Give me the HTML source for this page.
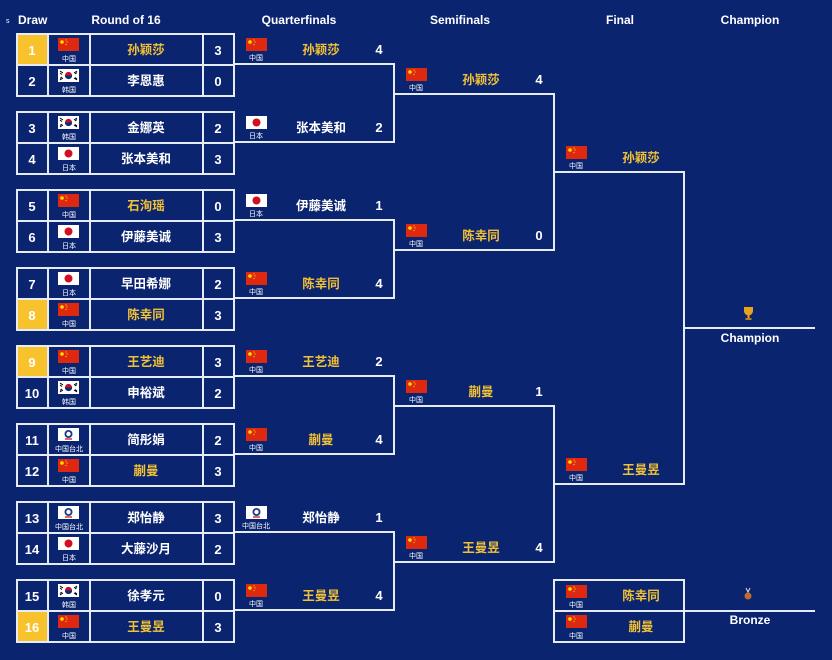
<!DOCTYPE html>
<html><head><meta charset="utf-8"><style>
html,body{margin:0;padding:0;background:#0a2470;}
svg{display:block;font-family:"Liberation Sans","Noto Sans CJK SC",sans-serif;}
.h{fill:#fff;font-weight:bold;font-size:12px;}
.n{font-weight:bold;font-size:12.5px;text-anchor:middle;}
.g{fill:#f3c234;}.w{fill:#fff;}
.c{fill:#fff;font-size:7px;text-anchor:middle;}
.s{fill:#fff;font-weight:bold;font-size:13px;text-anchor:middle;}
.l{stroke:#e6ecf6;stroke-width:2;fill:none;}
</style></head><body>
<svg width="832" height="660" viewBox="0 0 832 660">
<defs>
<g id="cn"><rect width="21" height="13" fill="#de2910"/><circle cx="4" cy="4" r="1.8" fill="#ffde00"/><circle cx="8" cy="2" r=".6" fill="#ffde00"/><circle cx="9" cy="4" r=".6" fill="#ffde00"/><circle cx="8" cy="6.5" r=".6" fill="#ffde00"/></g>
<g id="jp"><rect width="21" height="13" fill="#fff"/><circle cx="10.5" cy="6.5" r="4" fill="#d20f1e"/></g>
<g id="kr"><rect width="21" height="13" fill="#fff"/><circle cx="10.5" cy="6.5" r="3.6" fill="#c60c30"/><path d="M6.9 6.5a3.6 3.6 0 0 0 7.2 0z" fill="#003478"/><path d="M2 2l3 2M2 4l2 1.5M16 9l3 2M17 8.5l2 1.5M16 4l3-2M17 5l2-1.5M2 11l3-2M2 9.5l2-1.5" stroke="#000" stroke-width="1"/></g>
<g id="tw"><rect width="21" height="13" fill="#fff"/><circle cx="10.5" cy="6" r="4" fill="#1a3a8a"/><circle cx="10.5" cy="6" r="2.2" fill="#fff"/><path d="M7 11h7" stroke="#d00" stroke-width="1.2"/></g>
</defs>
<rect width="832" height="660" fill="#0a2470"/>
<text x="6" y="23" fill="#fff" font-size="7">s</text>
<text x="18" y="24" class="h">Draw</text>
<text x="126" y="24" class="h" text-anchor="middle">Round of 16</text>
<text x="299" y="24" class="h" text-anchor="middle">Quarterfinals</text>
<text x="460" y="24" class="h" text-anchor="middle">Semifinals</text>
<text x="620" y="24" class="h" text-anchor="middle">Final</text>
<text x="750" y="24" class="h" text-anchor="middle">Champion</text>

<!-- seed gold cells -->
<rect x="17" y="34" width="31" height="31" fill="#f7c22b"/>
<rect x="17" y="299" width="31" height="31" fill="#f7c22b"/>
<rect x="17" y="346" width="31" height="31" fill="#f7c22b"/>
<rect x="17" y="611" width="31" height="31" fill="#f7c22b"/>

<!-- R16 boxes -->
<g class="l">
<rect x="17" y="34" width="217" height="62"/><path d="M17 65H234M48 34V96M90 34V96M203 34V96"/>
<rect x="17" y="112" width="217" height="62"/><path d="M17 143H234M48 112V174M90 112V174M203 112V174"/>
<rect x="17" y="190" width="217" height="62"/><path d="M17 221H234M48 190V252M90 190V252M203 190V252"/>
<rect x="17" y="268" width="217" height="62"/><path d="M17 299H234M48 268V330M90 268V330M203 268V330"/>
<rect x="17" y="346" width="217" height="62"/><path d="M17 377H234M48 346V408M90 346V408M203 346V408"/>
<rect x="17" y="424" width="217" height="62"/><path d="M17 455H234M48 424V486M90 424V486M203 424V486"/>
<rect x="17" y="502" width="217" height="62"/><path d="M17 533H234M48 502V564M90 502V564M203 502V564"/>
<rect x="17" y="580" width="217" height="62"/><path d="M17 611H234M48 580V642M90 580V642M203 580V642"/>
<!-- QF -->
<path d="M234 64H394V142H234M234 220H394V298H234M234 376H394V454H234M234 532H394V610H234"/>
<!-- SF -->
<path d="M394 94H554V250H394M394 406H554V562H394"/>
<!-- Final -->
<path d="M554 172H684V484H554M684 328H815"/>
<!-- Bronze -->
<rect x="554" y="580" width="130" height="62"/><path d="M554 611H815"/>
</g>

<!-- draw numbers -->
<g class="s">
<text x="32" y="55">1</text><text x="32" y="86">2</text>
<text x="32" y="133">3</text><text x="32" y="164">4</text>
<text x="32" y="211">5</text><text x="32" y="242">6</text>
<text x="32" y="289">7</text><text x="32" y="320">8</text>
<text x="32" y="367">9</text><text x="32" y="398">10</text>
<text x="32" y="445">11</text><text x="32" y="476">12</text>
<text x="32" y="523">13</text><text x="32" y="554">14</text>
<text x="32" y="601">15</text><text x="32" y="632">16</text>
</g>
<!-- R16 flags -->
<use href="#cn" x="58" y="38"/><use href="#kr" x="58" y="69"/>
<use href="#kr" x="58" y="116"/><use href="#jp" x="58" y="147"/>
<use href="#cn" x="58" y="194"/><use href="#jp" x="58" y="225"/>
<use href="#jp" x="58" y="272"/><use href="#cn" x="58" y="303"/>
<use href="#cn" x="58" y="350"/><use href="#kr" x="58" y="381"/>
<use href="#tw" x="58" y="428"/><use href="#cn" x="58" y="459"/>
<use href="#tw" x="58" y="506"/><use href="#jp" x="58" y="537"/>
<use href="#kr" x="58" y="584"/><use href="#cn" x="58" y="615"/>
<g class="c">
<text x="69" y="61">中国</text><text x="69" y="92">韩国</text>
<text x="69" y="139">韩国</text><text x="69" y="170">日本</text>
<text x="69" y="217">中国</text><text x="69" y="248">日本</text>
<text x="69" y="295">日本</text><text x="69" y="326">中国</text>
<text x="69" y="373">中国</text><text x="69" y="404">韩国</text>
<text x="69" y="451">中国台北</text><text x="69" y="482">中国</text>
<text x="69" y="529">中国台北</text><text x="69" y="560">日本</text>
<text x="69" y="607">韩国</text><text x="69" y="638">中国</text>
</g>
<g class="n">
<text x="146" y="54" class="g">孙颖莎</text><text x="146" y="85" class="w">李恩惠</text>
<text x="146" y="132" class="w">金娜英</text><text x="146" y="163" class="w">张本美和</text>
<text x="146" y="210" class="g">石洵瑶</text><text x="146" y="241" class="w">伊藤美诚</text>
<text x="146" y="288" class="w">早田希娜</text><text x="146" y="319" class="g">陈幸同</text>
<text x="146" y="366" class="g">王艺迪</text><text x="146" y="397" class="w">申裕斌</text>
<text x="146" y="444" class="w">简彤娟</text><text x="146" y="475" class="g">蒯曼</text>
<text x="146" y="522" class="w">郑怡静</text><text x="146" y="553" class="w">大藤沙月</text>
<text x="146" y="600" class="w">徐孝元</text><text x="146" y="631" class="g">王曼昱</text>
</g>
<g class="s">
<text x="218" y="55">3</text><text x="218" y="86">0</text>
<text x="218" y="133">2</text><text x="218" y="164">3</text>
<text x="218" y="211">0</text><text x="218" y="242">3</text>
<text x="218" y="289">2</text><text x="218" y="320">3</text>
<text x="218" y="367">3</text><text x="218" y="398">2</text>
<text x="218" y="445">2</text><text x="218" y="476">3</text>
<text x="218" y="523">3</text><text x="218" y="554">2</text>
<text x="218" y="601">0</text><text x="218" y="632">3</text>
</g>

<!-- QF entries -->
<use href="#cn" x="246" y="38"/><use href="#jp" x="246" y="116"/>
<use href="#jp" x="246" y="194"/><use href="#cn" x="246" y="272"/>
<use href="#cn" x="246" y="350"/><use href="#cn" x="246" y="428"/>
<use href="#tw" x="246" y="506"/><use href="#cn" x="246" y="584"/>
<g class="c">
<text x="256" y="60">中国</text><text x="256" y="138">日本</text>
<text x="256" y="216">日本</text><text x="256" y="294">中国</text>
<text x="256" y="372">中国</text><text x="256" y="450">中国</text>
<text x="256" y="528">中国台北</text><text x="256" y="606">中国</text>
</g>
<g class="n">
<text x="321" y="54" class="g">孙颖莎</text><text x="321" y="132" class="w">张本美和</text>
<text x="321" y="210" class="w">伊藤美诚</text><text x="321" y="288" class="g">陈幸同</text>
<text x="321" y="366" class="g">王艺迪</text><text x="321" y="444" class="g">蒯曼</text>
<text x="321" y="522" class="w">郑怡静</text><text x="321" y="600" class="g">王曼昱</text>
</g>
<g class="s">
<text x="379" y="54">4</text><text x="379" y="132">2</text>
<text x="379" y="210">1</text><text x="379" y="288">4</text>
<text x="379" y="366">2</text><text x="379" y="444">4</text>
<text x="379" y="522">1</text><text x="379" y="600">4</text>
</g>

<!-- SF entries -->
<use href="#cn" x="406" y="68"/><use href="#cn" x="406" y="224"/>
<use href="#cn" x="406" y="380"/><use href="#cn" x="406" y="536"/>
<g class="c">
<text x="416" y="90">中国</text><text x="416" y="246">中国</text>
<text x="416" y="402">中国</text><text x="416" y="558">中国</text>
</g>
<g class="n">
<text x="481" y="84" class="g">孙颖莎</text><text x="481" y="240" class="g">陈幸同</text>
<text x="481" y="396" class="g">蒯曼</text><text x="481" y="552" class="g">王曼昱</text>
</g>
<g class="s">
<text x="539" y="84">4</text><text x="539" y="240">0</text>
<text x="539" y="396">1</text><text x="539" y="552">4</text>
</g>

<!-- Final -->
<use href="#cn" x="566" y="146"/><use href="#cn" x="566" y="458"/>
<use href="#cn" x="566" y="585"/><use href="#cn" x="566" y="615"/>
<g class="c">
<text x="576" y="168">中国</text><text x="576" y="480">中国</text>
<text x="576" y="607">中国</text><text x="576" y="638">中国</text>
</g>
<g class="n">
<text x="641" y="162" class="g">孙颖莎</text><text x="641" y="474" class="g">王曼昱</text>
<text x="641" y="600" class="g">陈幸同</text><text x="641" y="631" class="g">蒯曼</text>
</g>

<!-- Champion -->
<g transform="translate(743,307)"><path d="M1 0h9v4a4.5 4.5 0 0 1-9 0z" fill="#e9a21a"/><rect x="4.5" y="8" width="2" height="3" fill="#e9a21a"/><rect x="2.5" y="11" width="6" height="2" fill="#c27d12"/></g>
<text x="750" y="342" class="h" text-anchor="middle">Champion</text>
<circle cx="748" cy="596" r="3.5" fill="#c26a2a"/><path d="M746 588l2 4 2-4" stroke="#ddd" stroke-width="1" fill="none"/>
<text x="750" y="624" class="h" text-anchor="middle">Bronze</text>
</svg>
</body></html>
